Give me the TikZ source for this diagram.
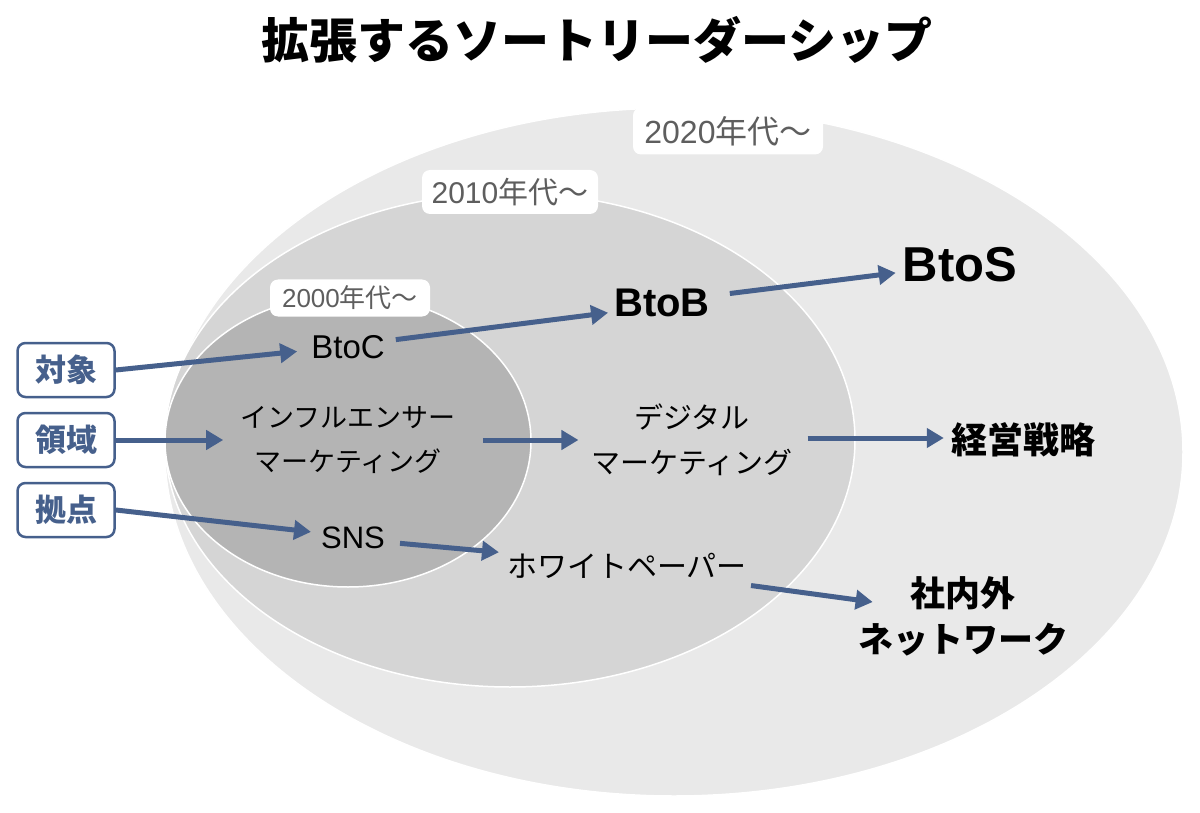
\documentclass[tikz,border=0pt]{standalone}
\usepackage{fontspec}
\setmainfont{Noto Sans CJK JP}
\newfontfamily\lat{Liberation Sans}
\usetikzlibrary{arrows.meta}
\definecolor{navy}{HTML}{46608C}
\definecolor{outerc}{HTML}{E9E9E9}
\definecolor{midc}{HTML}{D5D5D5}
\definecolor{innerc}{HTML}{B4B4B4}
\definecolor{labtxt}{HTML}{5E5E5E}
\newcommand{\fsz}[2]{\fontsize{#1}{#2}\selectfont}
\begin{document}
\begin{tikzpicture}[x=1pt,y=-1pt,
  arr/.style={draw=navy,line width=5pt,-{Triangle[length=17pt,width=19pt]}},
  era/.style={fill=white,rounded corners=8pt,text=labtxt,inner sep=0pt,anchor=center},
  sidebox/.style={draw=navy,line width=2.5pt,rounded corners=8pt,fill=white,text=navy,
    minimum width=97pt,minimum height=54pt,inner sep=0pt,font=\fsz{31}{36}\bfseries},
  txt/.style={inner sep=0pt,align=center,text=black},
  ring/.style={draw=white,line width=1.5pt}]
\fill[white] (0,0) rectangle (1200,813);
\useasboundingbox (0,0) rectangle (1200,813);
% ellipses
\path[ring,fill=outerc] (674,452) ellipse [x radius=509, y radius=344];
\path[ring,fill=midc] (510,440) ellipse [x radius=345, y radius=247];
\path[ring,fill=innerc] (348,441) ellipse [x radius=183, y radius=146];
% title
\node[txt,font=\fsz{48}{56}\bfseries] (title) at (597,40) {拡張するソートリーダーシップ};
% era labels
\node[era,minimum width=190pt,minimum height=47pt,font=\fsz{32}{36}] (e2020) at (728,131) {{\lat 2020}年代〜};
\node[era,minimum width=176pt,minimum height=44pt,font=\fsz{30}{34}] (e2010) at (510,192) {{\lat 2010}年代〜};
\node[era,minimum width=160pt,minimum height=37pt,font=\fsz{26}{30}] (e2000) at (350,298) {{\lat 2000}年代〜};
% side boxes
\node[sidebox] (taisho) at (66,370) {対象};
\node[sidebox] (ryoiki) at (66,440) {領域};
\node[sidebox] (kyoten) at (66,510) {拠点};
% texts
\node[txt,font=\lat\fsz{33}{38}] (btoc) at (348,347) {BtoC};
\node[txt,font=\lat\fsz{40}{46}\bfseries] (btob) at (662,303) {BtoB};
\node[txt,font=\lat\fsz{49}{56}\bfseries] (btos) at (960,265) {BtoS};
\node[txt,font=\fsz{27}{44}] (infl) at (348,440) {インフルエンサー\\マーケティング};
\node[txt,font=\fsz{29}{45}] (digi) at (692,440) {デジタル\\マーケティング};
\node[txt,font=\fsz{36}{42}\bfseries] (keiei) at (1023,440) {経営戦略};
\node[txt,font=\lat\fsz{31}{36}] (sns) at (353,538) {SNS};
\node[txt,font=\fsz{30}{36}] (white) at (627,566) {ホワイトペーパー};
\node[txt,font=\fsz{35}{46}\bfseries] (net) at (963,616) {社内外\\ネットワーク};
% arrows
\draw[arr,shorten >=14pt] (taisho.east) -- ([yshift=-3pt]btoc.west);
\draw[arr,shorten >=17pt] (ryoiki.east) -- (infl.west);
\draw[arr,shorten >=10pt] (kyoten.east) -- ([yshift=5pt]sns.west);
\draw[arr,shorten <=11pt,shorten >=6pt] ([yshift=6pt]btoc.east) -- ([yshift=-9pt]btob.west);
\draw[arr,shorten <=20pt,shorten >=7pt] ([yshift=7pt]btob.east) -- ([yshift=-7pt]btos.west);
\draw[arr,shorten <=27pt,shorten >=13pt] (infl.east) -- (digi.west);
\draw[arr,shorten <=15pt,shorten >=7pt] ([yshift=2pt]digi.east) -- ([yshift=2pt]keiei.west);
\draw[arr,shorten <=15pt,shorten >=8pt] ([yshift=-4pt]sns.east) -- ([yshift=13pt]white.west);
\draw[arr,shorten <=4pt,shorten >=-15pt] ([yshift=-19pt]white.east) -- ([yshift=16pt]net.west);
\end{tikzpicture}
\end{document}
